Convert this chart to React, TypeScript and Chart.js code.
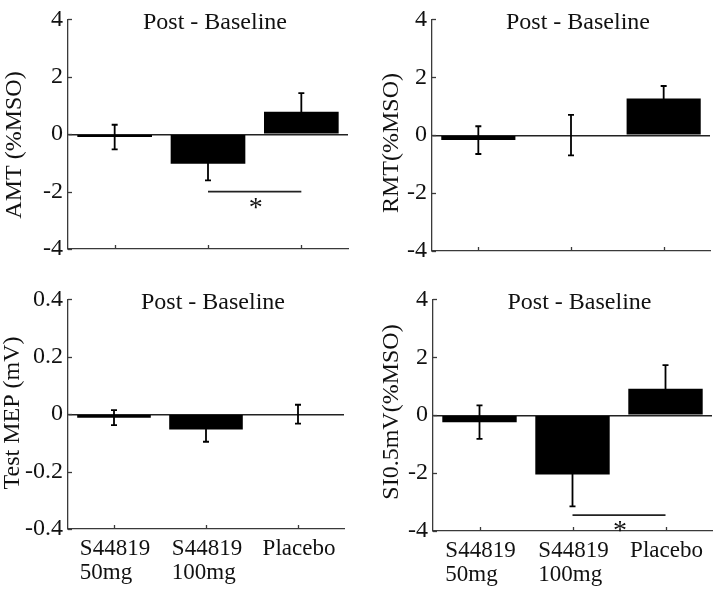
import React, { useEffect, useRef } from 'react';
import { Chart, registerables } from 'chart.js';

Chart.register(...registerables);

// ---- data ----
const categories: string[][] = [['S44819', '50mg'], ['S44819', '100mg'], ['Placebo']];
const panelTitle = 'Post - Baseline';

const amtMean = [-0.1, -1.03, 0.78];
const amtErr = [0.43, 0.58, 0.65];
const rmtMean = [-0.17, 0, 1.27];
const rmtErr = [0.48, 0.7, 0.43];
const mepMean = [-0.012, -0.053, 0.0];
const mepErr = [0.026, 0.043, 0.033];
const siMean = [-0.24, -2.05, 0.91];
const siErr = [0.58, 1.1, 0.82];

const ticksMSO = [-4, -2, 0, 2, 4];
const tickLabelsMSO = ['-4', '-2', '0', '2', '4'];
const ticksMEP = [-0.4, -0.2, 0, 0.2, 0.4];
const tickLabelsMEP = ['-0.4', '-0.2', '0', '0.2', '0.4'];

const amtSig = { from: 1, to: 2, y: -2 };
const siSig = { from: 1, to: 2, y: -3.45 };

const FONT = "'Liberation Serif', 'Times New Roman', serif";
const AXIS = '#3a3a3a';
const INK = '#111';

type Sig = { from: number; to: number; y: number } | null;

interface PanelProps {
  left: number; top: number; width: number; height: number;
  padTop: number; padRight: number; padBottom: number; yWidth: number;
  yTitle: string; yTitleX: number; yTitleY: number;
  mean: number[]; err: number[];
  ticks: number[]; tickLabels: string[];
  sig: Sig; showX: boolean;
}

function Panel(p: PanelProps) {
  const ref = useRef<HTMLCanvasElement | null>(null);
  useEffect(() => {
    if (!ref.current) return;
    const decor = {
      id: 'decor',
      afterDatasetsDraw(chart: any) {
        const ctx = chart.ctx;
        const xs = chart.scales.x;
        const ys = chart.scales.y;
        const area = chart.chartArea;
        ctx.save();
        // inside y ticks
        ctx.strokeStyle = AXIS;
        ctx.lineWidth = 1.3;
        p.ticks.forEach((v) => {
          const y = Math.round(ys.getPixelForValue(v)) + 0.5;
          ctx.beginPath();
          ctx.moveTo(area.left, y);
          ctx.lineTo(area.left + 4, y);
          ctx.stroke();
        });
        // inside x ticks
        p.mean.forEach((_, i) => {
          const x = Math.round(xs.getPixelForValue(i)) + 0.5;
          ctx.beginPath();
          ctx.moveTo(x, area.bottom);
          ctx.lineTo(x, area.bottom - 4);
          ctx.stroke();
        });
        // error bars
        ctx.strokeStyle = '#000';
        ctx.lineWidth = 1.8;
        p.mean.forEach((m, i) => {
          const x = xs.getPixelForValue(i);
          const yt = ys.getPixelForValue(m + p.err[i]);
          const yb = ys.getPixelForValue(m - p.err[i]);
          ctx.beginPath();
          ctx.moveTo(x, yt); ctx.lineTo(x, yb);
          ctx.moveTo(x - 3, yt); ctx.lineTo(x + 3, yt);
          ctx.moveTo(x - 3, yb); ctx.lineTo(x + 3, yb);
          ctx.stroke();
        });
        // significance
        if (p.sig) {
          const x1 = xs.getPixelForValue(p.sig.from);
          const x2 = xs.getPixelForValue(p.sig.to);
          const y = ys.getPixelForValue(p.sig.y);
          ctx.strokeStyle = '#222';
          ctx.lineWidth = 1.6;
          ctx.beginPath();
          ctx.moveTo(x1, y); ctx.lineTo(x2, y);
          ctx.stroke();
          ctx.fillStyle = INK;
          ctx.font = `28px ${FONT}`;
          ctx.textAlign = 'center';
          ctx.textBaseline = 'alphabetic';
          ctx.fillText('*', (x1 + x2) / 2 + 1, y + 24);
        }
        // panel title
        ctx.fillStyle = INK;
        ctx.font = `24px ${FONT}`;
        ctx.textAlign = 'center';
        ctx.textBaseline = 'middle';
        ctx.fillText(panelTitle, (area.left + area.right) / 2 + 7, area.top + 3);
        // y title
        ctx.save();
        ctx.translate(p.yTitleX, p.yTitleY);
        ctx.rotate(-Math.PI / 2);
        ctx.fillText(p.yTitle, 0, 0);
        ctx.restore();
        // x labels
        if (p.showX) {
          ctx.font = `23px ${FONT}`;
          ctx.textAlign = 'left';
          ctx.textBaseline = 'alphabetic';
          categories.forEach((lines, i) => {
            const x = xs.getPixelForValue(i);
            const w = Math.max(...lines.map((l) => ctx.measureText(l).width));
            lines.forEach((l, j) => {
              ctx.fillText(l, x - w / 2 + 1, area.bottom + 26 + j * 23.5);
            });
          });
        }
        ctx.restore();
      },
    };
    const chart = new Chart(ref.current, {
      type: 'bar',
      data: {
        labels: categories.map((c) => c.join(' ')),
        datasets: [{
          data: p.mean,
          backgroundColor: '#000',
          borderWidth: 0,
          barPercentage: 0.8,
          categoryPercentage: 1,
        }],
      },
      options: {
        responsive: false,
        animation: false,
        events: [],
        layout: { padding: { top: p.padTop, right: p.padRight, bottom: p.padBottom, left: 0 } },
        plugins: { legend: { display: false }, tooltip: { enabled: false }, title: { display: false } },
        scales: {
          x: {
            ticks: { display: false },
            grid: { display: false, drawTicks: false },
            border: { display: true, color: AXIS, width: 1.3 },
            afterFit: (s: any) => { s.height = 0; },
          },
          y: {
            min: p.ticks[0],
            max: p.ticks[p.ticks.length - 1],
            afterBuildTicks: (s: any) => { s.ticks = p.ticks.map((v) => ({ value: v })); },
            afterFit: (s: any) => { s.width = p.yWidth; },
            ticks: {
              padding: 5,
              color: INK,
              font: { family: FONT, size: 24 },
              callback: (v: any) => p.tickLabels[p.ticks.indexOf(v)] ?? String(v),
            },
            grid: {
              drawTicks: false,
              color: (c: any) => (c.tick && c.tick.value === 0 ? '#222' : 'rgba(0,0,0,0)'),
              lineWidth: 1.4,
            },
            border: { display: true, color: AXIS, width: 1.3 },
          },
        },
      },
      plugins: [decor],
    });
    return () => chart.destroy();
  }, []);
  return (
    <div style={{ position: 'absolute', left: p.left, top: p.top, width: p.width, height: p.height }}>
      <canvas ref={ref} width={p.width} height={p.height} />
    </div>
  );
}

export default function App() {
  return (
    <div style={{ position: 'absolute', left: 0, top: 0, width: 720, height: 591, background: '#fff', overflow: 'hidden' }}>
      <Panel left={0} top={0} width={360} height={280} padTop={16} padRight={12} padBottom={31} yWidth={68}
        yTitle="AMT (%MSO)" yTitleX={15} yTitleY={145} mean={amtMean} err={amtErr}
        ticks={ticksMSO} tickLabels={tickLabelsMSO} sig={amtSig} showX={false} />
      <Panel left={360} top={0} width={360} height={280} padTop={17} padRight={10} padBottom={29} yWidth={72}
        yTitle="RMT(%MSO)" yTitleX={32} yTitleY={143} mean={rmtMean} err={rmtErr}
        ticks={ticksMSO} tickLabels={tickLabelsMSO} sig={null} showX={false} />
      <Panel left={0} top={280} width={360} height={311} padTop={16} padRight={16} padBottom={62} yWidth={68}
        yTitle="Test MEP (mV)" yTitleX={13} yTitleY={133} mean={mepMean} err={mepErr}
        ticks={ticksMEP} tickLabels={tickLabelsMEP} sig={null} showX={true} />
      <Panel left={360} top={280} width={360} height={311} padTop={16} padRight={8} padBottom={60} yWidth={73}
        yTitle="SI0.5mV(%MSO)" yTitleX={32} yTitleY={132} mean={siMean} err={siErr}
        ticks={ticksMSO} tickLabels={tickLabelsMSO} sig={siSig} showX={true} />
    </div>
  );
}
